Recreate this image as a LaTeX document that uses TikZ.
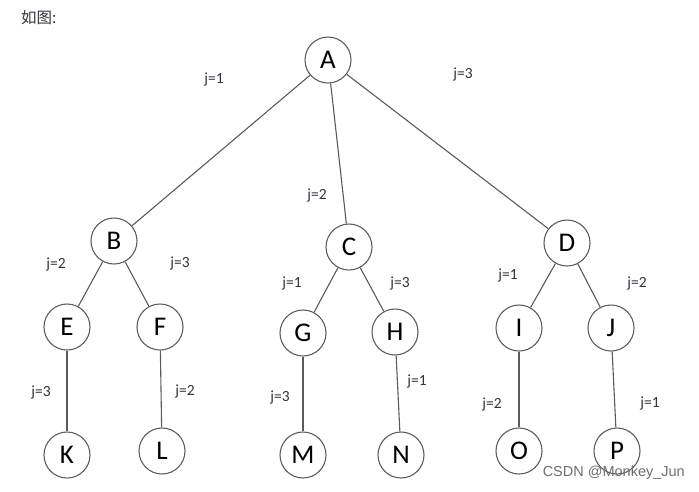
\documentclass[tikz,border=0pt]{standalone}
\usepackage{fontspec}
\setmainfont{Carlito}
\newfontfamily\cjkfont{Noto Sans CJK SC}
\newfontfamily\markfont{Liberation Sans}
\definecolor{edgegray}{RGB}{90,90,90}
\definecolor{ringgray}{RGB}{95,95,95}
\definecolor{labelgray}{RGB}{50,50,60}
\definecolor{markgray}{RGB}{110,110,110}
\tikzset{
  vertex/.style={circle, draw=ringgray, line width=1.1pt, fill=white,
    minimum size=46pt, inner sep=0pt, font=\fontsize{27}{27}\selectfont},
  branch/.style={draw=edgegray, line width=1.1pt},
  weight/.style={font=\fontsize{15.5}{15.5}\selectfont, text=labelgray, inner sep=0pt}
}
\newcommand{\branchJ}[3]{%
  % #1 parent, #2 child, #3 label position
  \draw[branch] (#1) -- (#2);
  \node[weight] (w#2) at #3 {j=\csname jval#2\endcsname};
}
\def\jvalB{1}\def\jvalC{2}\def\jvalD{3}
\def\jvalE{2}\def\jvalF{3}\def\jvalG{1}\def\jvalH{3}
\def\jvalI{1}\def\jvalJ{2}\def\jvalK{3}\def\jvalL{2}
\def\jvalM{3}\def\jvalN{1}\def\jvalO{2}\def\jvalP{1}

\begin{document}
\begin{tikzpicture}[x=1pt, y=-1pt]
  \useasboundingbox (0,0) rectangle (699,491);

  % caption
  \node[anchor=west, inner sep=0pt, font=\cjkfont\fontsize{15.5}{15.5}\selectfont, text=labelgray] (caption) at (21,18) {如图:};

  % level 0
  \node[vertex] (A) at (328,60) {A};

  % level 1
  \node[vertex] (B) at (114,241) {B};
  \node[vertex] (C) at (349,247) {C};
  \node[vertex] (D) at (567,243) {D};

  % level 2
  \node[vertex] (E) at (67,327) {E};
  \node[vertex] (F) at (160,327) {F};
  \node[vertex] (G) at (303,333) {G};
  \node[vertex] (H) at (395,332) {H};
  \node[vertex] (I) at (519,328) {I};
  \node[vertex] (J) at (611,328) {J};

  % level 3
  \node[vertex] (K) at (67,455) {K};
  \node[vertex] (L) at (162,451) {L};
  \node[vertex] (M) at (303,455) {M};
  \node[vertex] (N) at (401,455) {N};
  \node[vertex] (O) at (519,451) {O};
  \node[vertex] (P) at (617,451) {P};

  % edges with weights
  \branchJ{A}{B}{(214,79)}
  \branchJ{A}{C}{(317,195)}
  \branchJ{A}{D}{(463,74)}
  \branchJ{B}{E}{(56,264)}
  \branchJ{B}{F}{(180,263)}
  \branchJ{C}{G}{(292,283)}
  \branchJ{C}{H}{(400,283)}
  \branchJ{D}{I}{(508,275)}
  \branchJ{D}{J}{(637,283)}
  \branchJ{E}{K}{(41,392)}
  \branchJ{F}{L}{(185,391)}
  \branchJ{G}{M}{(280,397)}
  \branchJ{H}{N}{(417,381)}
  \branchJ{I}{O}{(492,404)}
  \branchJ{J}{P}{(650,403)}

  % watermark
  \node[anchor=east, inner sep=0pt, font=\markfont\fontsize{14.5}{14.5}\selectfont, text=markgray] (mark) at (685,473) {CSDN @Monkey\_Jun};
\end{tikzpicture}
\end{document}
